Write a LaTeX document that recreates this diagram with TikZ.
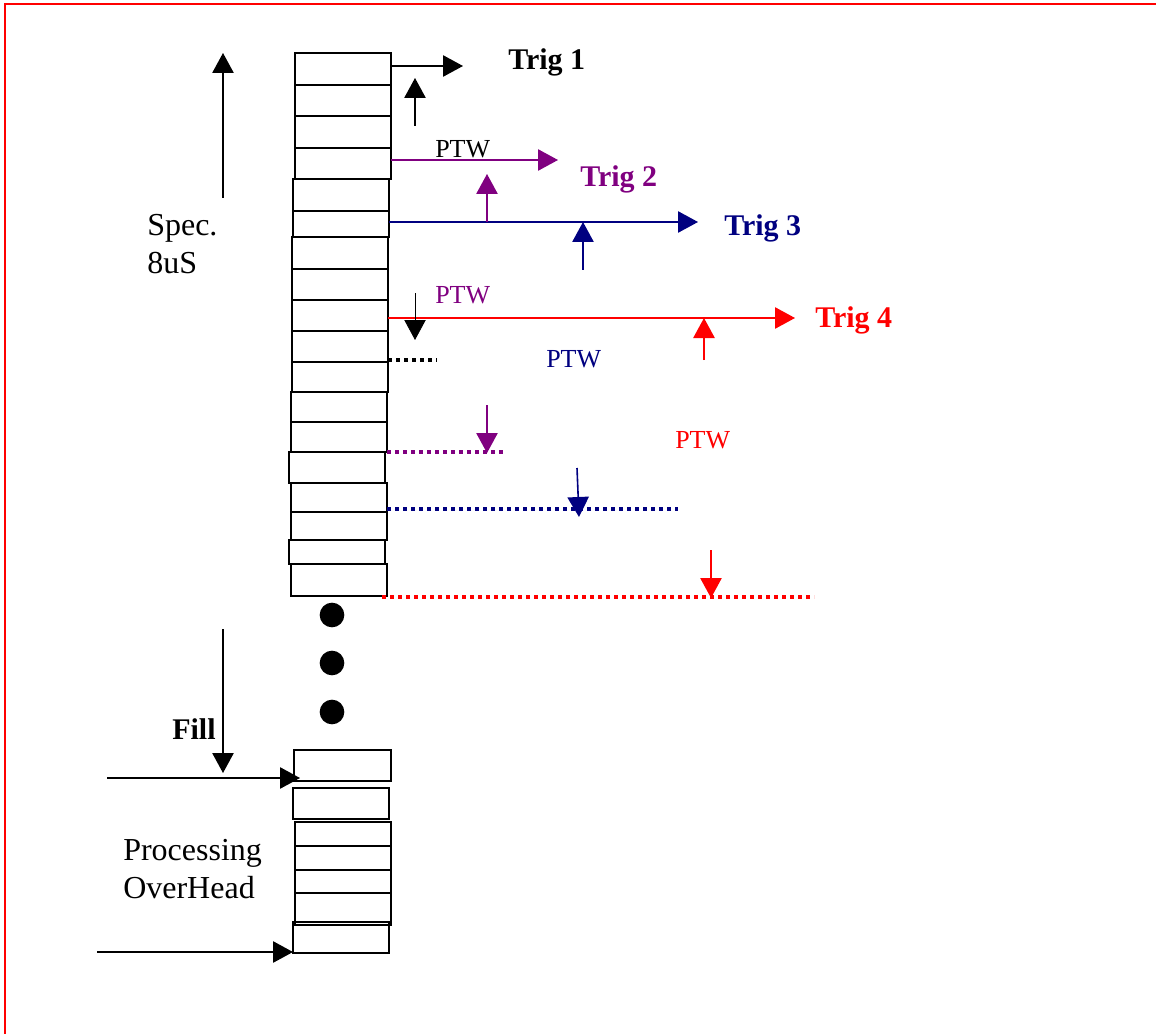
\documentclass[tikz,border=0pt]{standalone}
\usepackage{fontspec}
\setmainfont{Liberation Serif}
\usetikzlibrary{arrows.meta}

\definecolor{trigpurple}{RGB}{128,0,128}
\definecolor{trignavy}{RGB}{0,0,128}
\definecolor{trigred}{RGB}{255,0,0}

\tikzset{
  cell/.style={draw, line width=1.6pt, inner sep=0pt, outer sep=0pt},
  lbl/.style={inner sep=0pt, anchor=base west},
  triglbl/.style={lbl, font=\fontsize{22.5}{27}\selectfont\bfseries},
  ptw/.style={lbl, font=\fontsize{19.5}{23}\selectfont},
  bigtext/.style={lbl, font=\fontsize{24}{28}\selectfont},
  arr/.style={-{Triangle[length=15pt,width=16pt]}, line width=1.2pt},
  dots/.style={line width=3pt, dash pattern=on 3pt off 3pt},
  blob/.style={circle, fill, inner sep=0pt, minimum size=18.5pt},
}

\begin{document}
\begin{tikzpicture}[x=0.75pt, y=-0.75pt]
\useasboundingbox (0,0) rectangle (1156,1034);
\draw[trigred, line width=1.5pt] (5,1034) -- (5,4) -- (1156,4);

% buffer stack
\foreach \t/\b/\l/\r [count=\i] in {53/85/295/391, 85/116/295/391, 116/148/295/391,
    148/179/295/391, 179/211/293/389, 211/237/293/389, 237/269/292/388,
    269/300/292/388, 300/331/292/388, 331/362/292/388, 362/392/292/388,
    392/422/291/387, 422/452/291/387, 452/483/289/385, 483/512/291/387,
    512/540/291/387, 540/564/289/385, 564/596/291/387}
  \node[cell, minimum width={(\r-\l)*0.75pt}, minimum height={(\b-\t)*0.75pt}]
    (c\i) at ({(\l+\r)/2},{(\t+\b)/2}) {};

\node[blob] (d1) at (332,615) {};
\node[blob] (d2) at (332,663) {};
\node[blob] (d3) at (332,712) {};

\foreach \t/\b/\l/\r/\n in {750/781/294/391/bA, 788/819/293/389/bB,
    822/846/295/391/bC, 846/870/295/391/bD, 870/893/295/391/bE,
    893/925/295/391/bF, 922/953/293/389/bG}
  \node[cell, minimum width={(\r-\l)*0.75pt}, minimum height={(\b-\t)*0.75pt}]
    (\n) at ({(\l+\r)/2},{(\t+\b)/2}) {};

% labels
\node[bigtext] (spec) at (147,236) {Spec.};
\node[bigtext] (specb) at (147,273) {8uS};
\node[triglbl] (fill) at (172,739) {Fill};
\node[bigtext] (proc) at (123,860) {Processing};
\node[bigtext] (proch) at (123,898) {OverHead};

\node[triglbl] (trig1) at (508,70) {Trig 1};
\node[triglbl, trigpurple] (trig2) at (580,187) {Trig 2};
\node[triglbl, trignavy] (trig3) at (724,236) {Trig 3};
\node[triglbl, trigred] (trig4) at (815,327) {Trig 4};

\node[ptw] (ptw1) at (435,158) {PTW};
\node[ptw, trigpurple] (ptw2) at (435,303) {PTW};
\node[ptw, trignavy] (ptw3) at (546,367) {PTW};
\node[ptw, trigred] (ptw4) at (675,448) {PTW};

% spec and fill arrows
\coordinate (specbot) at (223,198);
\coordinate (spectop) at (223,53);
\draw[arr] (specbot) -- (spectop);
\coordinate (filltop) at (223,629);
\coordinate (fillbot) at (223,773);
\draw[arr] (filltop) -- (fillbot);
\coordinate (in1) at (107,778);
\coordinate (in2) at (97,952);
\draw[arr] (in1) -- ([xshift=4.5pt]bA.west |- in1);
\draw[arr] (in2) -- (bG.west |- in2);

% trigger lines
\coordinate (t1end) at (463,66);
\draw[arr] (c1.east |- t1end) -- (t1end);
\coordinate (t2end) at (558,160);
\draw[arr, trigpurple] (c4.east |- t2end) -- (t2end);
\coordinate (t3end) at (698,222);
\draw[arr, trignavy] (c6.east |- t3end) -- (t3end);
\coordinate (t4end) at (795,318);
\draw[arr, trigred] (c9.east |- t4end) -- (t4end);

% window start markers
\coordinate (u1a) at (415,126);
\coordinate (u1b) at (415,78);
\draw[arr] (u1a) -- (u1b);
\coordinate (u2) at (487,174);
\draw[arr, trigpurple] (u2 |- t3end) -- (u2);
\coordinate (u3a) at (583,270);
\coordinate (u3b) at (583,222);
\draw[arr, trignavy] (u3a) -- (u3b);
\coordinate (u4a) at (704,360);
\coordinate (u4b) at (704,318);
\draw[arr, trigred] (u4a) -- (u4b);

% window ends
\coordinate (e1) at (437,360);
\draw[dots] (c10.east |- e1) -- (e1);
\coordinate (e2) at (503,452);
\draw[dots, trigpurple] (c13.south east) -- (e2);
\coordinate (e3) at (678,509);
\draw[dots, trignavy] (c15.east |- e3) -- (e3);
\coordinate (e4) at (814,597);
\draw[dots, trigred] (382,597) -- (e4);

\coordinate (w1a) at (415,293);
\coordinate (w1b) at (415,340);
\draw[arr, line width=0.6pt] (w1a) -- (w1b);
\coordinate (w2a) at (487,405);
\coordinate (w2b) at (487,453);
\draw[arr, trigpurple] (w2a) -- (w2b);
\coordinate (w3a) at (577,468);
\coordinate (w3b) at (579,517);
\draw[arr, trignavy] (w3a) -- (w3b);
\coordinate (w4a) at (711,550);
\coordinate (w4b) at (711,598);
\draw[arr, trigred] (w4a) -- (w4b);
\end{tikzpicture}
\end{document}
